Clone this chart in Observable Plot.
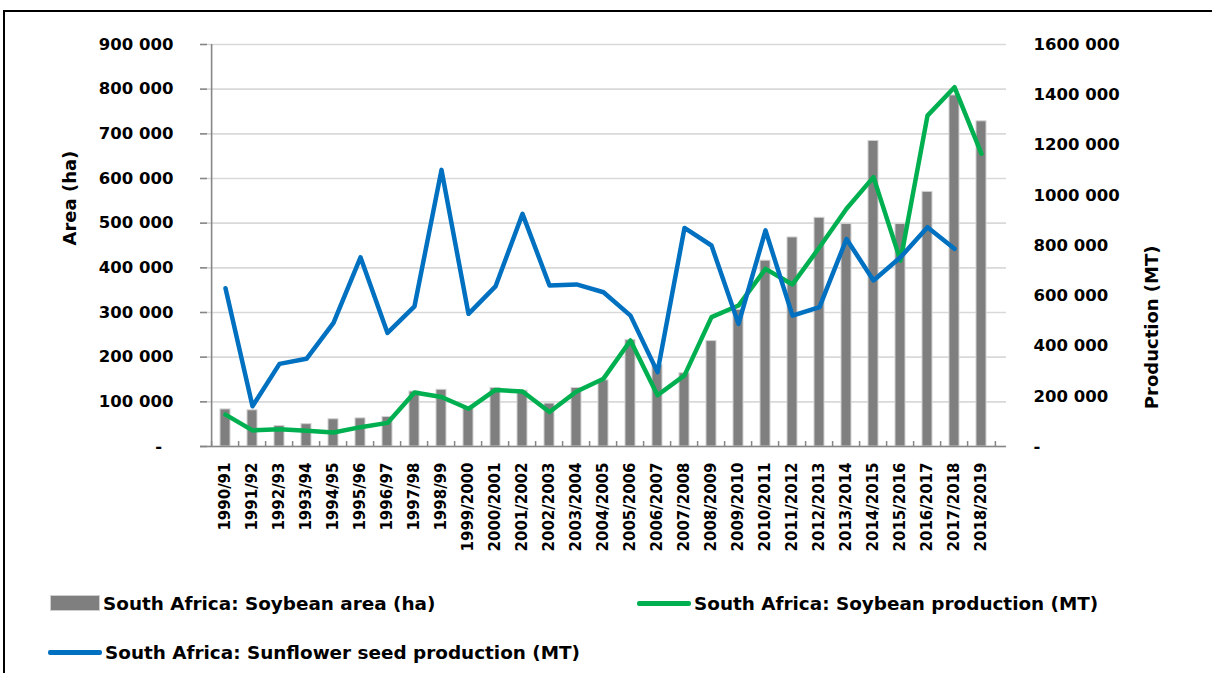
<!DOCTYPE html>
<html>
<head>
<meta charset="utf-8">
<script src="https://cdn.jsdelivr.net/npm/d3@7"></script>
<script src="https://cdn.jsdelivr.net/npm/@observablehq/plot@0.6"></script>
<style>
  html, body { margin: 0; padding: 0; background: #fff; }
  #wrap { position: relative; width: 1212px; height: 673px; overflow: hidden; background: #fff;
          font-family: "DejaVu Sans", sans-serif; font-weight: bold; color: #000; }
  #frame { position: absolute; left: 3px; top: 10px; width: 1300px; height: 800px;
           border-top: 2px solid #000; border-left: 2px solid #000; }
  #chart { position: absolute; left: 0; top: 0; }
  .leg { position: absolute; display: flex; align-items: center; font-size: 18.4px; white-space: nowrap; }
  .sw-bar { width: 50px; height: 16px; background: #7f7f7f; border: 1px solid #cfcfcf; box-sizing: border-box; margin-right: 3px; }
  .sw-line { width: 54px; height: 5px; border-radius: 2px; margin-right: 3px; }
</style>
</head>
<body>
<div id="wrap">
  <div id="frame"></div>
  <div id="chart"></div>
  <div id="legend"></div>
</div>
<script>
// ---- data ----
const categories = [
  "1990/91","1991/92","1992/93","1993/94","1994/95","1995/96","1996/97","1997/98","1998/99",
  "1999/2000","2000/2001","2001/2002","2002/2003","2003/2004","2004/2005","2005/2006","2006/2007",
  "2007/2008","2008/2009","2009/2010","2010/2011","2011/2012","2012/2013","2013/2014","2014/2015",
  "2015/2016","2016/2017","2017/2018","2018/2019"
];
const soybeanArea = [
  83000, 81000, 46000, 50000, 61000, 63000, 66000, 123000, 127000,
  88000, 131000, 125000, 96000, 131000, 148000, 238000, 183000,
  164000, 236000, 306000, 416000, 468000, 512000, 498000, 684000,
  498000, 570000, 786000, 728000
];
const soybeanProduction = [
  127000, 64000, 69000, 63000, 56000, 77000, 94000, 215000, 197000,
  150000, 225000, 219000, 137000, 219000, 270000, 422000, 204000,
  283000, 515000, 561000, 707000, 645000, 793000, 946000, 1072000,
  740000, 1317000, 1430000, 1165000
];
const sunflowerProduction = [
  630000, 160000, 329000, 349000, 492000, 753000, 452000, 558000, 1101000,
  528000, 637000, 926000, 641000, 645000, 614000, 521000, 296000,
  870000, 800000, 488000, 860000, 521000, 555000, 826000, 661000,
  753000, 873000, 787000, null
];
const areaTicks = [0, 100000, 200000, 300000, 400000, 500000, 600000, 700000, 800000, 900000];
const productionTicks = [0, 200000, 400000, 600000, 800000, 1000000, 1200000, 1400000, 1600000];
const leftTitle = "Area (ha)";
const rightTitle = "Production (MT)";
const seriesNames = [
  "South Africa: Soybean area (ha)",
  "South Africa: Soybean production (MT)",
  "South Africa: Sunflower seed production (MT)"
];
const seriesColors = ["#7f7f7f", "#00b050", "#0070c0"];

// ---- layout ----
const W = 1212, H = 570;
const mL = 200, mR = 206, mT = 44, mB = 124;
const plotW = W - mL - mR;
const step = plotW / categories.length;
const areaMax = areaTicks[areaTicks.length - 1];
const prodMax = productionTicks[productionTicks.length - 1];
const k = areaMax / prodMax; // map production onto area scale

const rows = categories.map((c, i) => ({
  cat: c,
  area: soybeanArea[i],
  soy: soybeanProduction[i] * k,
  sun: sunflowerProduction[i] == null ? null : sunflowerProduction[i] * k
}));

const fmtL = v => v === 0 ? "-\u2007" : `${Math.round(v / 1000)} 000`;
const fmtR = v => v === 0 ? "-" : `${Math.round(v / 1000)} 000`;
const pxToArea = px => px / (H - mT - mB) * areaMax;

const chart = Plot.plot({
  width: W, height: H,
  marginLeft: mL, marginRight: mR, marginTop: mT, marginBottom: mB,
  style: { fontFamily: "DejaVu Sans", background: "transparent", color: "#000" },
  x: { domain: categories, paddingInner: 0.64, paddingOuter: 0.32, axis: null },
  y: { domain: [0, areaMax], axis: null },
  marks: [
    Plot.gridY(areaTicks, { stroke: "#d9d9d9", strokeOpacity: 1, strokeWidth: 1.6 }),
    Plot.barY(rows, { x: "cat", y: "area", fill: seriesColors[0], stroke: "#d2d2d2", strokeWidth: 1 }),
    Plot.line(rows, { x: "cat", y: "soy", stroke: seriesColors[1], strokeWidth: 4.5, strokeLinejoin: "round", strokeLinecap: "round" }),
    Plot.line(rows.filter(d => d.sun != null), { x: "cat", y: "sun", stroke: seriesColors[2], strokeWidth: 4.5, strokeLinejoin: "round", strokeLinecap: "round" }),
    // axis lines
    Plot.ruleY([0], { stroke: "#868686", strokeWidth: 1.6 }),
    Plot.ruleX([categories[0]], { y1: 0, y2: areaMax, dx: -step / 2, stroke: "#868686", strokeWidth: 1.6 }),
    // inward tick marks on left axis
    Plot.tickY(areaTicks, { y: d => d, insetRight: plotW - 7, stroke: "#868686", strokeWidth: 1.5 }),
    // inward tick marks on bottom axis at category boundaries
    Plot.ruleX(categories, { x: d => d, y1: 0, y2: pxToArea(5), dx: -step / 2, stroke: "#868686", strokeWidth: 1.5 }),
    Plot.ruleX([categories[categories.length - 1]], { y1: 0, y2: pxToArea(5), dx: step / 2, stroke: "#868686", strokeWidth: 1.5 }),
    // left axis labels
    Plot.axisY(areaTicks, { anchor: "left", tickSize: 0, tickPadding: 27, tickFormat: fmtL, fontSize: 16.5, fontWeight: "bold", fill: "#000", label: null }),
    // right axis labels (production)
    Plot.axisY(productionTicks.map(v => v * k), { anchor: "right", tickSize: 0, tickPadding: 27, tickFormat: v => fmtR(Math.round(v / k)), fontSize: 16.5, fontWeight: "bold", fill: "#000", label: null }),
    // x axis labels
    Plot.axisX(categories, { anchor: "bottom", tickSize: 0, tickPadding: 16, tickRotate: -90, fontSize: 15, fontWeight: "bold", fill: "#000", label: null }),
    // axis titles
    Plot.text([leftTitle], { frameAnchor: "left", dx: -130, rotate: -90, fontSize: 18, fontWeight: "bold", fill: "#000" }),
    Plot.text([rightTitle], { frameAnchor: "right", dx: 146, rotate: -90, fontSize: 18, fontWeight: "bold", fill: "#000" })
  ]
});
document.getElementById("chart").appendChild(chart);

// ---- legend ----
const legend = document.getElementById("legend");
const legendItems = [
  { left: 50, top: 603, type: "bar" },
  { left: 637, top: 603, type: "line" },
  { left: 48, top: 652, type: "line" }
];
legendItems.forEach((it, i) => {
  const d = document.createElement("div");
  d.className = "leg";
  d.style.left = it.left + "px";
  d.style.top = (it.top - 12) + "px";
  d.style.height = "24px";
  const sw = document.createElement("span");
  if (it.type === "bar") {
    sw.className = "sw-bar";
  } else {
    sw.className = "sw-line";
    sw.style.background = seriesColors[i];
  }
  const t = document.createElement("span");
  t.textContent = seriesNames[i];
  d.appendChild(sw);
  d.appendChild(t);
  legend.appendChild(d);
});
</script>
</body>
</html>
